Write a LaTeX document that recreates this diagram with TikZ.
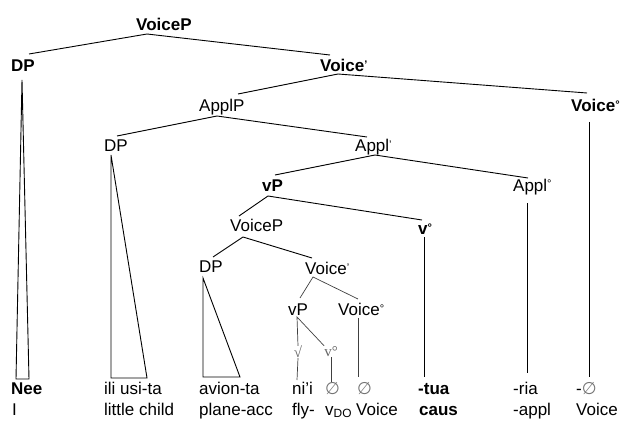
\documentclass[tikz,border=0pt]{standalone}
\usepackage{fontspec}
\setmainfont{Liberation Sans}
\newfontfamily\serifsym{Liberation Serif}
\newfontfamily\djv{DejaVu Sans}
\usetikzlibrary{calc}
\newcommand\myprime{\raisebox{3pt}{\fontsize{11}{11}\selectfont ’}}
\newcommand\mydeg{\raisebox{3pt}{\fontsize{11}{11}\selectfont °}}
\newcommand\myempty{{\djv\color{black!55}∅}}
\tikzset{
  lab/.style={anchor=base west, inner sep=0pt, font=\fontsize{17}{17}\selectfont},
  blab/.style={anchor=base west, inner sep=0pt, font=\fontsize{17}{17}\selectfont\bfseries},
  symlab/.style={anchor=center, inner sep=0pt, text=black!60, font=\fontsize{15}{15}\selectfont\serifsym},
  br/.style={line width=0.9pt},
  sbr/.style={line width=0.7pt, black!75}
}
\begin{document}
\begin{tikzpicture}[x=1pt,y=-1pt]
\useasboundingbox (0,0) rectangle (641,436);
% upper labels
\node[blab] (VP1) at (136,31) {VoiceP};
\node[blab] (DPa) at (11,72) {DP};
\node[blab] (Vb1) at (320,72) {Voice\myprime};
\node[blab] (Vh1) at (571,112) {Voice\mydeg};
\node[lab] (ApplP) at (199,112) {ApplP};
\node[lab] (DPb) at (104,152) {DP};
\node[lab] (Applb) at (355,152) {Appl\myprime};
\node[lab] (Applh) at (513,191) {Appl\mydeg};
\node[blab] (vP1) at (262,191) {vP};
\node[blab] (vh1) at (418,234) {v\mydeg};
\node[lab] (VP2) at (230,231) {VoiceP};
\node[lab] (DPc) at (199,272) {DP};
\node[lab] (Vb2) at (305,274) {Voice\myprime};
\node[lab] (vP2) at (288,315) {vP};
\node[lab] (Vh2) at (338,315) {Voice\mydeg};
\node[symlab] (root) at (298,352) {√};
\node[symlab] (vh2) at (331,352) {v°};
% bottom row 1
\node[blab] (nee) at (11,394) {Nee};
\node[lab] (ili) at (104,394) {ili usi-ta};
\node[lab] (avion) at (199,394) {avion-ta};
\node[lab] (nii) at (292,394) {ni’i};
\node[lab] (e1) at (325,394) {\myempty};
\node[lab] (e2) at (357,394) {\myempty};
\node[blab] (tua) at (418,394) {-tua};
\node[lab] (ria) at (513,394) {-ria};
\node[lab] (e3) at (576,394) {-\myempty};
% bottom row 2
\node[lab] (g1) at (12,415) {I};
\node[lab] (g2) at (104,415) {little child};
\node[lab] (g3) at (199,415) {plane-acc};
\node[lab] (g4) at (292,415) {fly-};
\node[lab] (g5) at (325,415) {v\textsubscript{DO}};
\node[lab] (g6) at (356,415) {Voice};
\node[blab] (g7) at (419,415) {caus};
\node[lab] (g8) at (513,415) {-appl};
\node[lab] (g9) at (576,415) {Voice};
% branches
\draw[br] ($(DPa.base west)+(18,-18)$) -- ($(VP1.base west)+(11,3)$) -- ($(Vb1.base west)+(10,-17)$);
\draw[br] ($(ApplP.base west)+(39,-18)$) -- ($(Vb1.base west)+(18,2)$) -- ($(Vh1.base west)+(16,-19)$);
\draw[br] ($(Vh1.base west)+(18,10)$) -- ($(e3.base west)+(13,-17)$);
\draw[br] ($(DPa.base west)+(11,8)$) -- ($(nee.base west)+(5,-15)$) -- ($(nee.base west)+(18,-15)$) -- cycle;
\draw[br] ($(DPb.base west)+(13,-16)$) -- ($(ApplP.base west)+(18,4)$) -- ($(Applb.base west)+(12,-15)$);
\draw[br] ($(DPb.base west)+(7,3)$) -- ($(ili.base west)+(7,-16)$) -- ($(ili.base west)+(43,-16)$) -- cycle;
\draw[br] ($(vP1.base west)+(13,-16)$) -- ($(Applb.base west)+(20,3)$) -- ($(Applh.base west)+(15,-13)$);
\draw[br] ($(Applh.base west)+(14,12)$) -- ($(ria.base west)+(14,-21)$);
\draw[br] ($(VP2.base west)+(9,-15)$) -- ($(vP1.base west)+(6,5)$) -- ($(vh1.base west)+(4,-14)$);
\draw[br] ($(vh1.base west)+(6,3)$) -- ($(tua.base west)+(6,-17)$);
\draw[br] ($(DPc.base west)+(14,-15)$) -- ($(VP2.base west)+(13,6)$) -- ($(Vb2.base west)+(7,-16)$);
\draw[br] ($(DPc.base west)+(4,6)$) -- ($(avion.base west)+(4,-17)$) -- ($(avion.base west)+(41,-17)$) -- cycle;
\draw[sbr] ($(vP2.base west)+(12,-17)$) -- ($(Vb2.base west)+(8,3)$) -- ($(Vh2.base west)+(20,-16)$);
\draw[sbr] ($(Vh2.base west)+(20,3)$) -- ($(e2.base west)+(1,-17)$);
\draw[sbr] (root.north) -- ($(vP2.base west)+(9,2)$) -- ($(vh2.north west)+(0,-1)$);
\draw[sbr] (root.south) -- ($(nii.base west)+(5,-14)$);
\draw[sbr] (vh2.south) -- ($(e1.base west)+(6,-12)$);
\end{tikzpicture}
\end{document}
